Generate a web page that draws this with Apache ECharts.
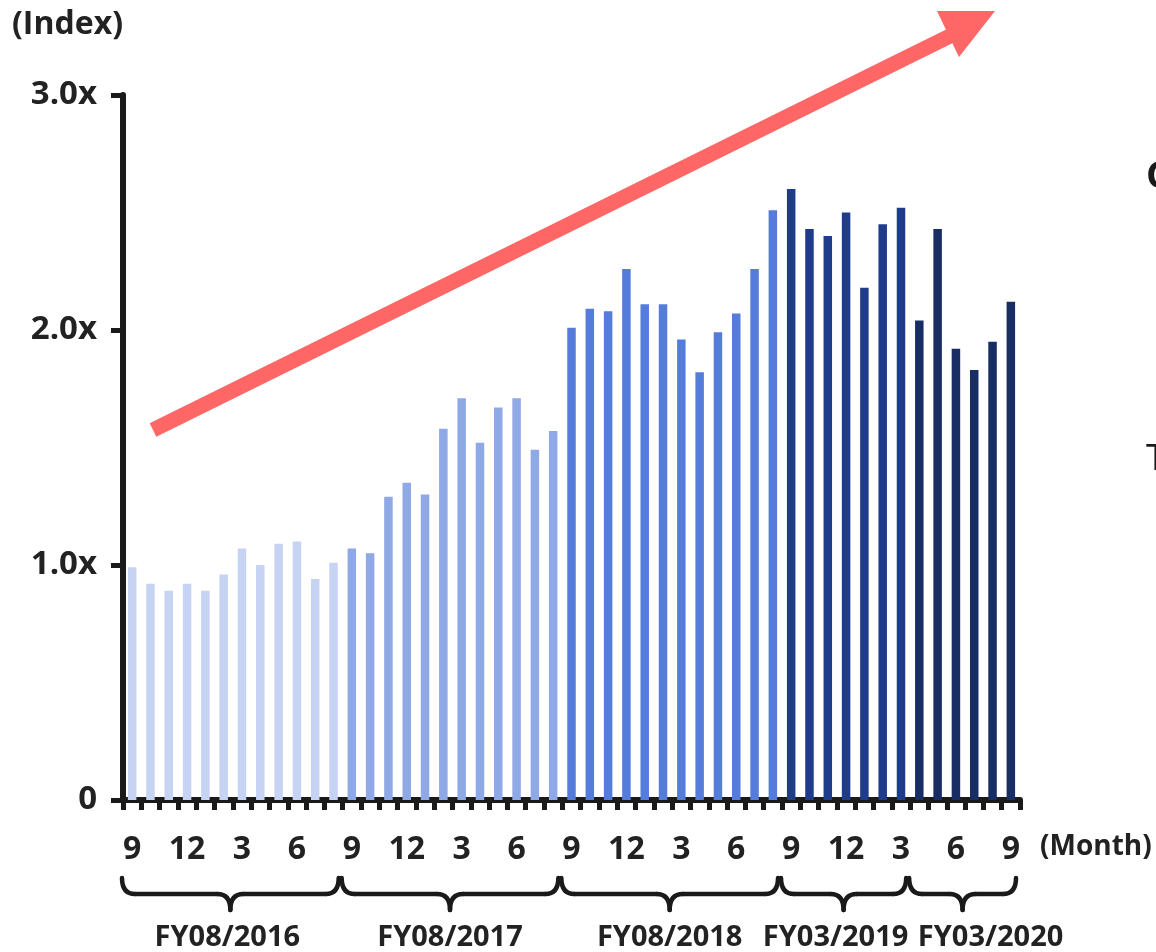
<!DOCTYPE html>
<html>
<head>
<meta charset="utf-8">
<script src="https://cdn.jsdelivr.net/npm/echarts@6/dist/echarts.min.js"></script>
<style>
  html, body { margin: 0; padding: 0; background: #ffffff; }
  #chart { width: 1156px; height: 952px; }
</style>
</head>
<body>
<div id="chart"></div>
<script>
// Monthly index, Sep 2015 – Sep 2019
const months = [
  '9','10','11','12','1','2','3','4','5','6','7','8',
  '9','10','11','12','1','2','3','4','5','6','7','8',
  '9','10','11','12','1','2','3','4','5','6','7','8',
  '9','10','11','12','1','2','3',
  '4','5','6','7','8','9'
];
const indexValues = [
  0.99, 0.92, 0.89, 0.92, 0.89, 0.96, 1.07, 1.00, 1.09, 1.10, 0.94, 1.01,
  1.07, 1.05, 1.29, 1.35, 1.30, 1.58, 1.71, 1.52, 1.67, 1.71, 1.49, 1.57,
  2.01, 2.09, 2.08, 2.26, 2.11, 2.11, 1.96, 1.82, 1.99, 2.07, 2.26, 2.51,
  2.60, 2.43, 2.40, 2.50, 2.18, 2.45, 2.52,
  2.04, 2.43, 1.92, 1.83, 1.95, 2.12
];
const groupLabels = ['FY08/2016', 'FY08/2017', 'FY08/2018', 'FY03/2019', 'FY03/2020'];
const groupSizes = [12, 12, 12, 7, 6];
const groupColors = ['#c7d3f2', '#8fa8e6', '#557cdb', '#1e3c8a', '#172d63'];
const yTicks = [0, 1, 2, 3];

// horizontal nudge of the fiscal-year captions so neighbours don't collide
const captionShift = [-3, 0, 0, -8, 28];

const TEXT = '#222222';
const INK = '#1a1a1a';
const FONT = '"Open Sans", "Noto Sans", sans-serif';

// colour per bar from its fiscal-year group
const barColors = [];
groupSizes.forEach((n, g) => { for (let i = 0; i < n; i++) barColors.push(groupColors[g]); });

const chart = echarts.init(document.getElementById('chart'));

chart.setOption({
  backgroundColor: '#ffffff',
  animation: false,
  grid: { left: 123, right: 136, top: 95, bottom: 152 },
  xAxis: {
    type: 'category',
    data: months,
    boundaryGap: true,
    axisLine: { show: true, lineStyle: { color: INK, width: 6 } },
    axisTick: { show: true, interval: 0, length: 10, lineStyle: { color: INK, width: 5 } },
    axisLabel: {
      interval: 2, margin: 34,
      color: TEXT, fontFamily: FONT, fontWeight: 'bold', fontSize: 32
    },
    splitLine: { show: false }
  },
  yAxis: {
    type: 'value',
    min: yTicks[0], max: yTicks[yTicks.length - 1], interval: 1,
    axisLine: { show: true, lineStyle: { color: INK, width: 6 } },
    axisTick: { show: true, length: 12, lineStyle: { color: INK, width: 5 } },
    axisLabel: {
      margin: 26, color: TEXT, fontFamily: FONT, fontWeight: 'bold', fontSize: 33,
      formatter: v => (v === 0 ? '0' : v.toFixed(1) + 'x')
    },
    splitLine: { show: false }
  },
  series: [{
    type: 'bar',
    barWidth: 8.5,
    data: indexValues.map((v, i) => ({ value: v, itemStyle: { color: barColors[i] } }))
  }]
});

// category band edges from the axis scale
const c0 = chart.convertToPixel({ xAxisIndex: 0 }, 0);
const c1 = chart.convertToPixel({ xAxisIndex: 0 }, 1);
const band = c1 - c0;
const edge = i => c0 - band / 2 + i * band;

const braceStyle = { stroke: INK, lineWidth: 4.5, lineCap: 'round', fill: null };
const curve = (x1, y1, cx, cy, x2, y2) => ({
  type: 'bezierCurve',
  shape: { x1, y1, x2, y2, cpx1: cx, cpy1: cy },
  style: braceStyle
});
const seg = (x1, y1, x2, y2) => ({ type: 'line', shape: { x1, y1, x2, y2 }, style: braceStyle });
const label = (x, y, text, size, extra) => ({
  type: 'text', x, y,
  style: Object.assign({
    text, fill: TEXT, fontFamily: FONT, fontWeight: 'bold', fontSize: size,
    textVerticalAlign: 'middle'
  }, extra || {})
});

// curly braces + fiscal-year captions
const graphics = [];
let start = 0;
groupSizes.forEach((n, g) => {
  const x1 = edge(start) - 1;
  const x2 = edge(start + n) - 4;
  const mid = (x1 + x2) / 2;
  const yTop = 878, yBar = 894, yTip = 910, r = 13;
  graphics.push(curve(x1, yTop, x1, yBar, x1 + r, yBar));
  graphics.push(seg(x1 + r, yBar, mid - r, yBar));
  graphics.push(curve(mid - r, yBar, mid, yBar, mid, yTip));
  graphics.push(curve(mid, yTip, mid, yBar, mid + r, yBar));
  graphics.push(seg(mid + r, yBar, x2 - r, yBar));
  graphics.push(curve(x2 - r, yBar, x2, yBar, x2, yTop));
  graphics.push(label(mid + captionShift[g], 938, groupLabels[g], 29, { textAlign: 'center' }));
  start += n;
});

// axis captions
graphics.push(label(12, 25, '(Index)', 32));
graphics.push(label(1040, 847, '(Month)', 28));

// upward trend arrow
graphics.push({
  type: 'line',
  shape: { x1: 153, y1: 430, x2: 950, y2: 36 },
  style: { stroke: '#ff6666', lineWidth: 15, lineCap: 'butt' }
});
graphics.push({
  type: 'polygon',
  shape: { points: [[937, 11], [995, 11], [959, 57]] },
  style: { fill: '#ff6666' }
});

// text running in from the adjoining panel on the right
graphics.push(label(1146, 177, 'C', 38, { fill: INK }));
graphics.push(label(1146, 460, 'T', 36, { fill: INK, fontWeight: 'normal' }));

chart.setOption({ graphic: graphics });
</script>
</body>
</html>
